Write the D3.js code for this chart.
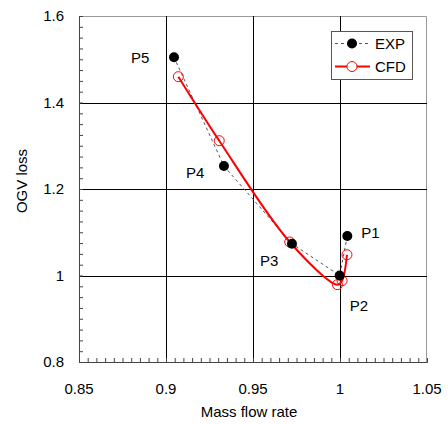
<!DOCTYPE html>
<html>
<head>
<meta charset="utf-8">
<script src="https://cdn.jsdelivr.net/npm/d3@7"></script>
<style>
  body { margin: 0; background: #fff; }
  text { font-family: Arial, "Liberation Sans", sans-serif; }
</style>
</head>
<body>
<div id="vis"></div>
<script>
// data
const expX = [1.0042, 0.9998, 0.9724, 0.9333, 0.9046];
const expY = [1.0913, 1.0, 1.0735, 1.253, 1.5045];
const cfdX = [1.004, 1.0012, 0.9985, 0.9711, 0.9306, 0.9071];
const cfdY = [1.048, 0.988, 0.9788, 1.0775, 1.3117, 1.4597];
const pointNames = ['P1', 'P2', 'P3', 'P4', 'P5'];
const xTicks = [0.85, 0.9, 0.95, 1, 1.05];
const yTicks = [0.8, 1, 1.2, 1.4, 1.6];

const WIDTH_VIS = 448;
const HEIGHT_VIS = 424;
const MARGIN = { top: 16, right: 21, bottom: 62, left: 79 };
const W = WIDTH_VIS - MARGIN.left - MARGIN.right;
const H = HEIGHT_VIS - MARGIN.top - MARGIN.bottom;

const SVG = d3.select('#vis').append('svg')
  .attr('width', WIDTH_VIS).attr('height', HEIGHT_VIS);
const g = SVG.append('g').attr('transform', `translate(${MARGIN.left},${MARGIN.top})`);

const x = d3.scaleLinear().domain([0.85, 1.05]).range([0, W]);
const y = d3.scaleLinear().domain([0.8, 1.6]).range([H, 0]);

// frame top/right in light gray
g.append('path')
  .attr('d', `M0,0.5H${W - 0.5}V${H}`)
  .attr('fill', 'none').attr('stroke', '#999').attr('stroke-width', 1);

// grid lines
g.append('g').selectAll('line').data(xTicks.slice(1, -1)).join('line')
  .attr('x1', (d) => Math.round(x(d)) + 0.5).attr('x2', (d) => Math.round(x(d)) + 0.5)
  .attr('y1', 0).attr('y2', H).attr('stroke', '#000').attr('stroke-width', 1);
g.append('g').selectAll('line').data(yTicks.slice(1, -1)).join('line')
  .attr('y1', (d) => Math.round(y(d)) + 0.5).attr('y2', (d) => Math.round(y(d)) + 0.5)
  .attr('x1', 0).attr('x2', W).attr('stroke', '#000').attr('stroke-width', 1);

// axes with minor ticks pointing inwards
const xMinor = d3.range(0.85, 1.0501, 0.005);
const yMinor = d3.range(0.8, 1.6001, 0.025);
const xAxis = g.append('g').attr('transform', `translate(0,${H})`)
  .call(d3.axisBottom(x).tickValues(xMinor).tickSize(-4).tickFormat(''));
xAxis.select('.domain').attr('stroke', '#444');
xAxis.selectAll('.tick line').attr('stroke', '#444');
const yAxis = g.append('g')
  .call(d3.axisLeft(y).tickValues(yMinor).tickSize(-4).tickFormat(''));
yAxis.select('.domain').attr('stroke', '#444');
yAxis.selectAll('.tick line').attr('stroke', '#444');

// tick labels
g.append('g').selectAll('text').data(xTicks).join('text')
  .attr('x', (d) => x(d)).attr('y', H + 32)
  .attr('text-anchor', 'middle').attr('font-size', 15)
  .text((d) => d3.format('')(d));
g.append('g').selectAll('text').data(yTicks).join('text')
  .attr('x', -15).attr('y', (d) => y(d) + 5)
  .attr('text-anchor', 'end').attr('font-size', 15)
  .text((d) => d3.format('')(d));

// axis titles
g.append('text').attr('x', W / 2 - 4).attr('y', H + 55)
  .attr('text-anchor', 'middle').attr('font-size', 15).text('Mass flow rate');
g.append('text').attr('transform', `translate(-52,${H / 2 - 8}) rotate(-90)`)
  .attr('text-anchor', 'middle').attr('font-size', 15).text('OGV loss');

// EXP series
const expData = expX.map((d, i) => [d, expY[i]]);
const cfdData = cfdX.map((d, i) => [d, cfdY[i]]);

g.append('path').datum(expData)
  .attr('d', d3.line().x((d) => x(d[0])).y((d) => y(d[1])))
  .attr('fill', 'none').attr('stroke', '#555').attr('stroke-width', 1)
  .attr('stroke-dasharray', '3,3');

g.append('path').datum(cfdData)
  .attr('d', d3.line().x((d) => x(d[0])).y((d) => y(d[1])).curve(d3.curveCatmullRom.alpha(0.5)))
  .attr('fill', 'none').attr('stroke', '#f00').attr('stroke-width', 2);

g.append('g').selectAll('circle').data(cfdData).join('circle')
  .attr('cx', (d) => x(d[0])).attr('cy', (d) => y(d[1])).attr('r', 5)
  .attr('fill', 'none').attr('stroke', '#f00').attr('stroke-width', 1);

g.append('g').selectAll('circle').data(expData).join('circle')
  .attr('cx', (d) => x(d[0])).attr('cy', (d) => y(d[1])).attr('r', 5)
  .attr('fill', '#000');

// point labels
const labelOffsets = [[14, 2], [10, 35], [-32, 22], [-38, 12], [-43, 6]];
g.append('g').selectAll('text').data(expData).join('text')
  .attr('x', (d, i) => x(d[0]) + labelOffsets[i][0])
  .attr('y', (d, i) => y(d[1]) + labelOffsets[i][1])
  .attr('font-size', 15)
  .text((d, i) => pointNames[i]);

// legend
const lg = SVG.append('g').attr('transform', 'translate(331,31)');
lg.append('rect').attr('x', 0.5).attr('y', 0.5).attr('width', 81).attr('height', 48)
  .attr('fill', '#fff').attr('stroke', '#555').attr('stroke-width', 1);
lg.append('line').attr('x1', 4).attr('x2', 39).attr('y1', 12.5).attr('y2', 12.5)
  .attr('stroke', '#555').attr('stroke-dasharray', '3,3');
lg.append('circle').attr('cx', 21).attr('cy', 12.5).attr('r', 5).attr('fill', '#000');
lg.append('text').attr('x', 44).attr('y', 18).attr('font-size', 15).text('EXP');
lg.append('line').attr('x1', 4).attr('x2', 39).attr('y1', 35.5).attr('y2', 35.5)
  .attr('stroke', '#f00').attr('stroke-width', 2);
lg.append('circle').attr('cx', 21).attr('cy', 35.5).attr('r', 5)
  .attr('fill', '#fff').attr('stroke', '#f00');
lg.append('text').attr('x', 44).attr('y', 41).attr('font-size', 15).text('CFD');
</script>
</body>
</html>
